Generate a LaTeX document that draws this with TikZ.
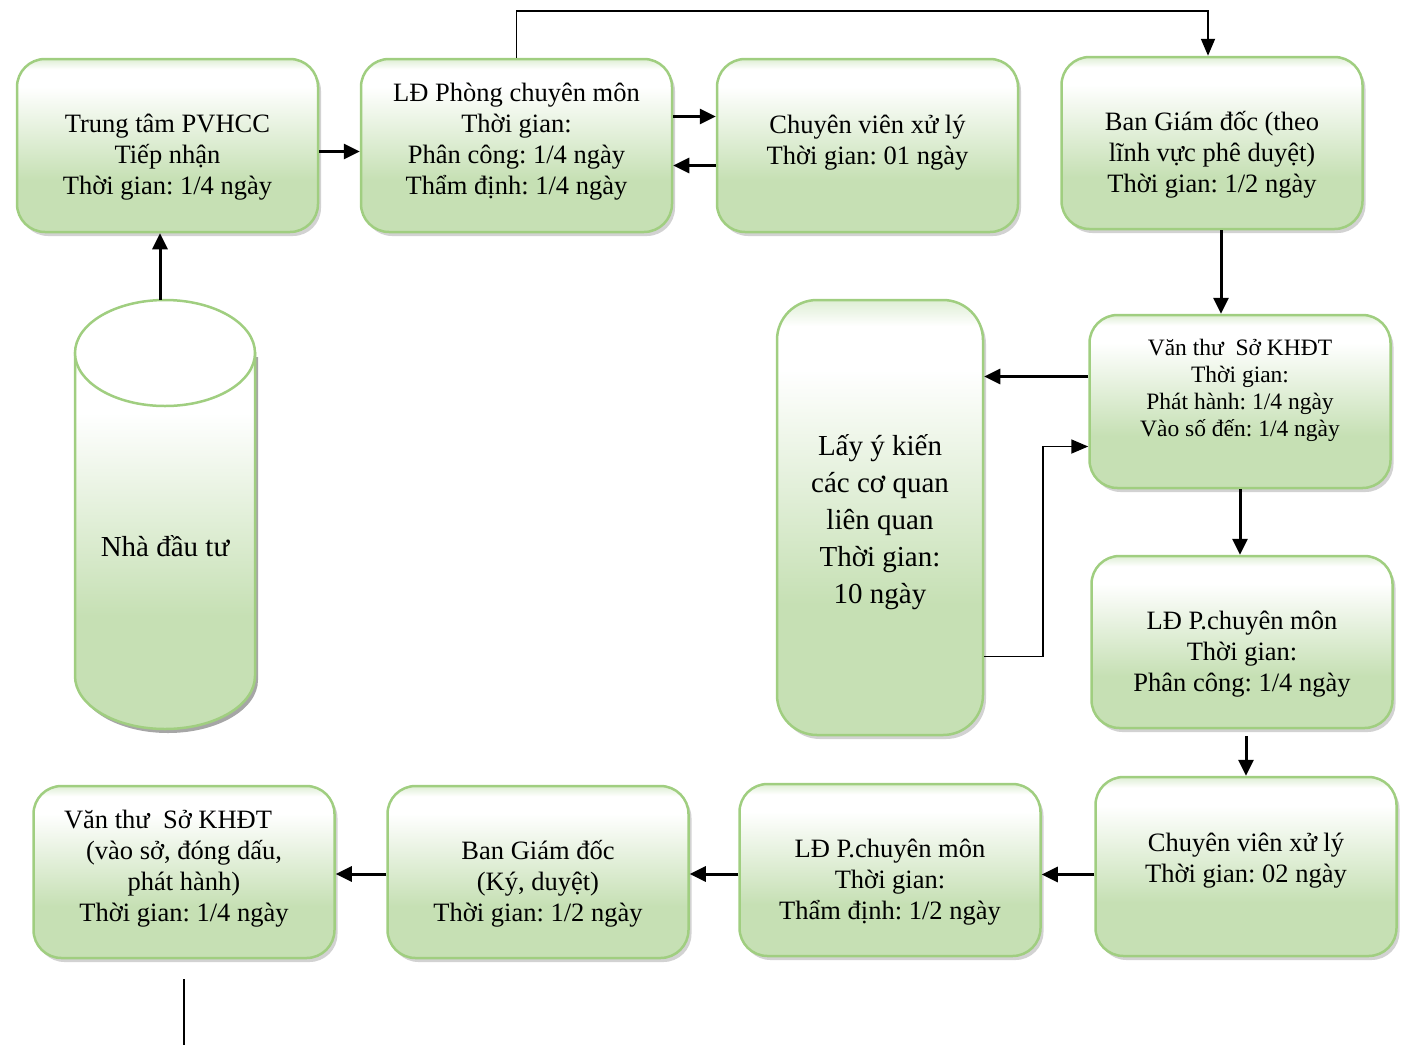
\documentclass[tikz,border=0pt]{standalone}
\usepackage{fontspec}
\setmainfont{Liberation Serif}
\frenchspacing
\usetikzlibrary{arrows.meta,shadows}
\definecolor{xanhvien}{RGB}{160,206,128}
\definecolor{xanhday}{RGB}{198,224,180}
\definecolor{xanhdinh}{RGB}{222,238,212}
\pgfdeclareverticalshading{nenkhoi}{100bp}{color(0bp)=(xanhday); color(40bp)=(xanhday); color(67bp)=(white); color(72bp)=(white); color(75bp)=(xanhdinh); color(100bp)=(xanhdinh)}
\newcommand\chuvua{\fontsize{26.5}{31}\selectfont}
\newcommand\chunho{\fontsize{23.5}{27}\selectfont}
\newcommand\chulon{\fontsize{29}{37}\selectfont}
\begin{document}
\begin{tikzpicture}[x=1pt, y=-1pt,
  khoi/.style = {shape=rectangle, rounded corners=28pt, draw=xanhvien,
    line width=2.5pt, shade, shading=nenkhoi, align=center, font=\chuvua,
    minimum width=301pt, minimum height=173pt,
    drop shadow={shadow xshift=3pt, shadow yshift=-4pt, fill=black!35}},
  dongdau/.style 2 args = {text height=#1, text depth=#2},
  muiten/.style = {line width=3pt, -{Triangle[length=16pt,width=15pt]}},
  mong/.style = {line width=1.8pt},
  muitenmong/.style = {-{Triangle[length=17pt,width=14pt]}}]
  \useasboundingbox (0,0) rectangle (1405,1045);
  % tru nha dau tu
  \fill[black!35, shift={(3,4)}] (75,353) -- (75,676)
    arc[start angle=180, end angle=0, x radius=90, y radius=53] -- (255,353) -- cycle;
  \shade[shading=nenkhoi, draw=xanhvien, line width=2.5pt] (75,353) -- (75,676)
    arc[start angle=180, end angle=0, x radius=90, y radius=53] -- (255,353) -- cycle;
  \draw[draw=xanhvien, line width=2.5pt, fill=white] (165,353) ellipse [x radius=90, y radius=53];
  \node[font=\chulon] (nhadautu) at (165,546) {Nhà đầu tư};
  \coordinate (dinhtru) at (160,300);
  % hang tren
  \node[khoi, dongdau={98.5pt}{1.5pt}] (tiepnhan) at (167.5,145.5)
    {Trung tâm PVHCC\\Tiếp nhận\\Thời gian: 1/4 ngày};
  \node[khoi, minimum width=311pt, dongdau={98.5pt}{1.5pt}] (ldphong) at (516.5,145.5)
    {LĐ Phòng chuyên môn\\Thời gian:\\Phân công: 1/4 ngày\\Thẩm định: 1/4 ngày};
  \node[khoi, dongdau={68.5pt}{31.5pt}] (chuyenvien) at (867.5,145.5)
    {Chuyên viên xử lý\\Thời gian: 01 ngày};
  \node[khoi, minimum height=172pt, dongdau={99pt}{1pt}] (bgdpheduyet) at (1212,143)
    {Ban Giám đốc (theo\\lĩnh vực phê duyệt)\\Thời gian: 1/2 ngày};
  % cot phai
  \node[khoi, font=\chunho, dongdau={84.5pt}{15.5pt}] (vanthu) at (1240,401.5)
    {Văn thư~ Sở KHĐT\\Thời gian:\\Phát hành: 1/4 ngày\\Vào số đến: 1/4 ngày};
  \node[khoi, minimum width=206pt, minimum height=435pt, rounded corners=40pt,
    font=\chulon, dongdau={185.5pt}{14.5pt}] (layykien) at (880,517.5)
    {Lấy ý kiến\\các cơ quan\\liên quan\\Thời gian:\\10 ngày};
  \node[khoi, minimum height=172pt, dongdau={99pt}{1pt}] (ldphancong) at (1242,642)
    {LĐ P.chuyên môn\\Thời gian:\\Phân công: 1/4 ngày};
  % hang duoi
  \node[khoi, minimum height=179pt, dongdau={65.5pt}{34.5pt}] (chuyenvien2) at (1246,866.5)
    {Chuyên viên xử lý\\Thời gian: 02 ngày};
  \node[khoi, minimum height=172pt, dongdau={99pt}{1pt}] (ldthamdinh) at (890,870)
    {LĐ P.chuyên môn\\Thời gian:\\Thẩm định: 1/2 ngày};
  \node[khoi, minimum height=172pt, dongdau={99pt}{1pt}] (bgdky) at (538,872)
    {Ban Giám đốc\\(Ký, duyệt)\\Thời gian: 1/2 ngày};
  \node[khoi, minimum height=172pt, dongdau={99pt}{1pt}] (vanthuphathanh) at (184,872)
    {Văn thư~ Sở KHĐT\hspace*{32pt}\\(vào sở, đóng dấu,\\phát hành)\\Thời gian: 1/4 ngày};
  \coordinate (cuoi) at (184,1045);
  % mui ten
  \draw[muiten] (dinhtru) -- (dinhtru |- tiepnhan.south);
  \draw[muiten] ([yshift=-6pt]tiepnhan.east) -- ([yshift=-6pt]ldphong.west);
  \draw[muiten] ([yshift=29pt]ldphong.east) -- ([yshift=29pt]chuyenvien.west);
  \draw[muiten] ([yshift=-20pt]chuyenvien.west) -- ([yshift=-20pt]ldphong.east);
  \draw[mong, muitenmong] (ldphong.north) -- ++(0,-47) -| ([xshift=-4pt]bgdpheduyet.north);
  \draw[muiten] ([xshift=9pt]bgdpheduyet.south) -- ([xshift=9pt]bgdpheduyet.south |- vanthu.north);
  \draw[muiten] ([yshift=25pt]vanthu.west) -- ([yshift=25pt]vanthu.west -| layykien.east);
  \draw[mong, muitenmong] ([yshift=-139pt]layykien.east) -- ++(59,0) |- ([yshift=-45pt]vanthu.west);
  \draw[muiten] (vanthu.south) -- (vanthu.south |- ldphancong.north);
  \draw[muiten] ([yshift=-7pt]chuyenvien2.north |- ldphancong.south) -- (chuyenvien2.north);
  \draw[muiten] ([yshift=-8pt]chuyenvien2.west) -- ([yshift=-8pt]chuyenvien2.west -| ldthamdinh.east);
  \draw[muiten] ([yshift=-4pt]ldthamdinh.west) -- ([yshift=-4pt]ldthamdinh.west -| bgdky.east);
  \draw[muiten] ([yshift=-2pt]bgdky.west) -- ([yshift=-2pt]bgdky.west -| vanthuphathanh.east);
  \draw[mong] ([yshift=-20pt]vanthuphathanh.south) -- (cuoi);
\end{tikzpicture}
\end{document}
